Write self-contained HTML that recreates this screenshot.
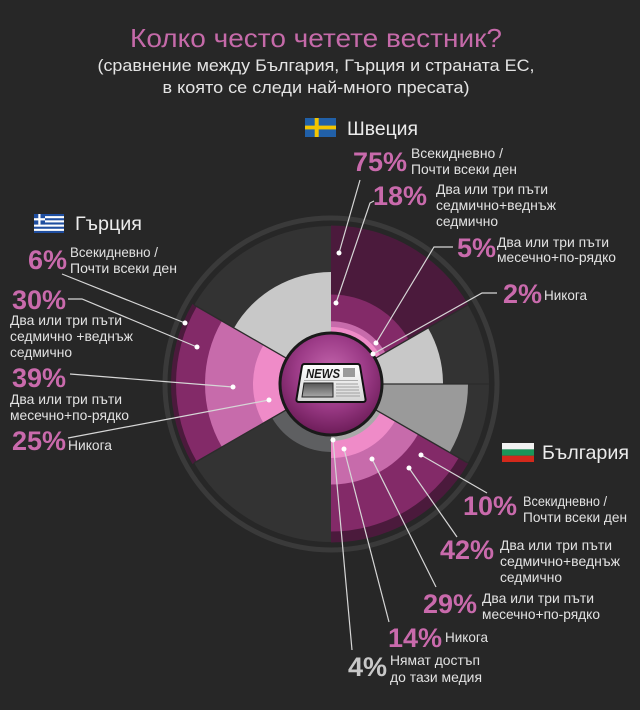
<!DOCTYPE html>
<html>
<head>
<meta charset="utf-8">
<style>
  html,body{margin:0;padding:0;background:#272727;}
  svg{display:block;}
  text{font-family:"Liberation Sans","Noto Sans CJK SC",sans-serif;}
  .pct{font-weight:bold;font-size:27px;fill:#c96aac;}
  .lbl{font-size:14px;fill:#e2e2e2;}
  .hdr{font-size:19.5px;fill:#ececec;}
  .ld{stroke:#d6d6d6;stroke-width:1.2;fill:none;}
  .dot{fill:#ffffff;}
</style>
</head>
<body>
<svg width="640" height="710" viewBox="0 0 640 710" xmlns="http://www.w3.org/2000/svg">
  <defs>
    <radialGradient id="cg" cx="50%" cy="38%" r="62%">
      <stop offset="0" stop-color="#c466ad"/>
      <stop offset="0.55" stop-color="#9c3b87"/>
      <stop offset="1" stop-color="#6c1c58"/>
    </radialGradient>
    <linearGradient id="pg" x1="0" y1="0" x2="0" y2="1">
      <stop offset="0" stop-color="#ffffff"/>
      <stop offset="1" stop-color="#d4d4d4"/>
    </linearGradient>
    <linearGradient id="ph" x1="0" y1="0" x2="0" y2="1">
      <stop offset="0" stop-color="#555"/>
      <stop offset="1" stop-color="#a8a8a8"/>
    </linearGradient>
  </defs>

  <rect x="0" y="0" width="640" height="710" fill="#272727"/>

  <!-- Title -->
  <text x="316" y="47" text-anchor="middle" font-size="26" fill="#c56aa9" textLength="372" lengthAdjust="spacingAndGlyphs">Колко често четете вестник?</text>
  <text x="316" y="71" text-anchor="middle" font-size="17" fill="#e4e4e4" textLength="437" lengthAdjust="spacingAndGlyphs">(сравнение между България, Гърция и страната ЕС,</text>
  <text x="316" y="93" text-anchor="middle" font-size="17" fill="#e4e4e4" textLength="307" lengthAdjust="spacingAndGlyphs">в която се следи най-много пресата)</text>

  <!-- Chart -->
  <g transform="translate(331,384)">
    <circle cx="0" cy="0" r="166" fill="none" stroke="#3a3a3a" stroke-width="5"/>
    <circle cx="0" cy="0" r="158" fill="#333333"/>

    <!-- Sweden 0-60 -->
    <path d="M0 0L0 -158.5A158.5 158.5 0 0 1 137.26 -79.25Z" fill="#4b1a3c"/>
    <path d="M0 0L0 -89.5A89.5 89.5 0 0 1 77.51 -44.75Z" fill="#832a68"/>
    <path d="M0 0L0 -62.8A62.8 62.8 0 0 1 54.39 -31.4Z" fill="#c76bab"/>
    <path d="M0 0L0 -57A57 57 0 0 1 49.36 -28.5Z" fill="#ef8bc8"/>

    <!-- gray 60-90 & 90-120 -->
    <path d="M0 0L0 -112A112 112 0 0 1 56 -96.99Z" fill="#c8c8c8" transform="rotate(60)"/>
    <path d="M0 0L0 -137A137 137 0 0 1 68.5 -118.65Z" fill="#9a9a9a" transform="rotate(90)"/>

    <!-- Bulgaria 120-180 -->
    <g transform="rotate(120)">
      <path d="M0 0L0 -158.5A158.5 158.5 0 0 1 137.26 -79.25Z" fill="#4b1a3c"/>
      <path d="M0 0L0 -147.5A147.5 147.5 0 0 1 127.74 -73.75Z" fill="#832a68"/>
      <path d="M0 0L0 -100.5A100.5 100.5 0 0 1 87.04 -50.25Z" fill="#c76bab"/>
      <path d="M0 0L0 -74A74 74 0 0 1 64.09 -37Z" fill="#ef8bc8"/>
      <path d="M0 0L0 -57A57 57 0 0 1 49.36 -28.5Z" fill="#a9a9a9"/>
    </g>

    <!-- gray 180-240 -->
    <path d="M0 0L0 -68A68 68 0 0 1 58.89 -34Z" fill="#5e5f61" transform="rotate(180)"/>

    <!-- Greece 240-300 -->
    <g transform="rotate(240)">
      <path d="M0 0L0 -160A160 160 0 0 1 138.56 -80Z" fill="#4b1a3c"/>
      <path d="M0 0L0 -155A155 155 0 0 1 134.23 -77.5Z" fill="#832a68"/>
      <path d="M0 0L0 -126A126 126 0 0 1 109.12 -63Z" fill="#c76bab"/>
      <path d="M0 0L0 -78A78 78 0 0 1 67.55 -39Z" fill="#ef8bc8"/>
    </g>

    <!-- gray 300-360 -->
    <path d="M0 0L0 -112A112 112 0 0 1 96.99 -56Z" fill="#c8c8c8" transform="rotate(300)"/>

    <!-- separators -->
    <g stroke="#2c2c2c" stroke-width="1.3">
      <line x1="0" y1="0" x2="136.83" y2="-79"/>
      <line x1="0" y1="0" x2="158" y2="0"/>
      <line x1="0" y1="0" x2="136.83" y2="79"/>
      <line x1="0" y1="0" x2="-136.83" y2="79"/>
      <line x1="0" y1="0" x2="-136.83" y2="-79"/>
    </g>

    <!-- center circle -->
    <circle cx="0" cy="0" r="51" fill="url(#cg)" stroke="#1a1a1a" stroke-width="3"/>
  </g>

  <!-- Newspaper icon -->
  <path d="M304.5 364 L357.5 364 Q359.5 364 360 366 L365.5 399 Q366 402 363 402 L299 402 Q296 402 296.5 399 L302 366 Q302.5 364 304.5 364 Z" fill="url(#pg)" stroke="#111" stroke-width="2"/>
  <text x="306" y="378" font-size="13" font-weight="bold" font-style="italic" fill="#1a1a1a" textLength="34" lengthAdjust="spacingAndGlyphs">NEWS</text>
  <rect x="343" y="368" width="12" height="9" fill="#9a9a9a"/>
  <line x1="304" y1="380.5" x2="358" y2="380.5" stroke="#999" stroke-width="0.8"/>
  <path d="M304 383 L333 383 L333 397 L302 397 Z" fill="url(#ph)" stroke="#222" stroke-width="1"/>
  <g stroke="#a0a0a0" stroke-width="0.9">
    <line x1="336" y1="384" x2="358" y2="384"/>
    <line x1="336" y1="387" x2="359" y2="387"/>
    <line x1="336" y1="390" x2="359" y2="390"/>
    <line x1="336" y1="393" x2="360" y2="393"/>
    <line x1="336" y1="396" x2="360" y2="396"/>
  </g>

  <!-- Leader lines -->
  <g class="ld">
    <polyline points="339,253 360,180"/>
    <polyline points="336,303 370,203 374,201"/>
    <polyline points="376,343 434,247 453,247"/>
    <polyline points="373,354 482,293 497,293"/>

    <polyline points="185,323 62,274"/>
    <polyline points="197,347 82,299 68,299"/>
    <polyline points="233,387 70,374"/>
    <polyline points="269,400 68,438"/>

    <polyline points="421,455 487,493"/>
    <polyline points="409,468 457,537"/>
    <polyline points="372,459 436,587"/>
    <polyline points="344,449 389,622"/>
    <polyline points="333,440 352,650"/>
  </g>
  <g class="dot">
    <circle cx="339" cy="253" r="2.5"/>
    <circle cx="336" cy="303" r="2.5"/>
    <circle cx="376" cy="343" r="2.5"/>
    <circle cx="373" cy="354" r="2.5"/>
    <circle cx="185" cy="323" r="2.5"/>
    <circle cx="197" cy="347" r="2.5"/>
    <circle cx="233" cy="387" r="2.5"/>
    <circle cx="269" cy="400" r="2.5"/>
    <circle cx="421" cy="455" r="2.5"/>
    <circle cx="409" cy="468" r="2.5"/>
    <circle cx="372" cy="459" r="2.5"/>
    <circle cx="344" cy="449" r="2.5"/>
    <circle cx="333" cy="440" r="2.5"/>
  </g>

  <!-- Sweden -->
  <rect x="305" y="118" width="31" height="19" fill="#2160a8"/>
  <rect x="314.7" y="118" width="4" height="19" fill="#f3c500"/>
  <rect x="305" y="125.6" width="31" height="3.8" fill="#f3c500"/>
  <text class="hdr" x="347" y="135" textLength="71" lengthAdjust="spacingAndGlyphs">Швеция</text>

  <text class="pct" x="353" y="171">75%</text>
  <text class="lbl" x="411" y="158" textLength="92" lengthAdjust="spacingAndGlyphs">Всекидневно /</text>
  <text class="lbl" x="411" y="174" textLength="106" lengthAdjust="spacingAndGlyphs">Почти всеки ден</text>

  <text class="pct" x="373" y="205">18%</text>
  <text class="lbl" x="436" y="194" textLength="112" lengthAdjust="spacingAndGlyphs">Два или три пъти</text>
  <text class="lbl" x="436" y="210" textLength="120" lengthAdjust="spacingAndGlyphs">седмично+веднъж</text>
  <text class="lbl" x="436" y="226" textLength="62" lengthAdjust="spacingAndGlyphs">седмично</text>

  <text class="pct" x="457" y="257">5%</text>
  <text class="lbl" x="497" y="247" textLength="112" lengthAdjust="spacingAndGlyphs">Два или три пъти</text>
  <text class="lbl" x="497" y="262" textLength="119" lengthAdjust="spacingAndGlyphs">месечно+по-рядко</text>

  <text class="pct" x="503" y="303">2%</text>
  <text class="lbl" x="544" y="300" textLength="43" lengthAdjust="spacingAndGlyphs">Никога</text>

  <!-- Greece -->
  <rect x="34" y="214" width="30" height="19" fill="#ffffff"/>
  <g fill="#1f4ea0">
    <rect x="34" y="214" width="30" height="2.11"/>
    <rect x="34" y="218.22" width="30" height="2.11"/>
    <rect x="34" y="222.44" width="30" height="2.11"/>
    <rect x="34" y="226.67" width="30" height="2.11"/>
    <rect x="34" y="230.89" width="30" height="2.11"/>
    <rect x="34" y="214" width="11" height="10.55"/>
  </g>
  <rect x="38.3" y="214" width="2.2" height="10.55" fill="#ffffff"/>
  <rect x="34" y="218.2" width="11" height="2.2" fill="#ffffff"/>
  <text class="hdr" x="75" y="230" textLength="67" lengthAdjust="spacingAndGlyphs">Гърция</text>

  <text class="pct" x="28" y="269">6%</text>
  <text class="lbl" x="70" y="257" textLength="88" lengthAdjust="spacingAndGlyphs">Всекидневно /</text>
  <text class="lbl" x="70" y="273" textLength="107" lengthAdjust="spacingAndGlyphs">Почти всеки ден</text>

  <text class="pct" x="12" y="309">30%</text>
  <text class="lbl" x="10" y="325" textLength="112" lengthAdjust="spacingAndGlyphs">Два или три пъти</text>
  <text class="lbl" x="10" y="341" textLength="123" lengthAdjust="spacingAndGlyphs">седмично +веднъж</text>
  <text class="lbl" x="10" y="357" textLength="62" lengthAdjust="spacingAndGlyphs">седмично</text>

  <text class="pct" x="12" y="387">39%</text>
  <text class="lbl" x="10" y="404" textLength="112" lengthAdjust="spacingAndGlyphs">Два или три пъти</text>
  <text class="lbl" x="10" y="420" textLength="119" lengthAdjust="spacingAndGlyphs">месечно+по-рядко</text>

  <text class="pct" x="12" y="450">25%</text>
  <text class="lbl" x="68" y="450" textLength="44" lengthAdjust="spacingAndGlyphs">Никога</text>

  <!-- Bulgaria -->
  <rect x="502" y="443" width="32" height="6.4" fill="#f2f2f2"/>
  <rect x="502" y="449.4" width="32" height="6.3" fill="#1a9659"/>
  <rect x="502" y="455.7" width="32" height="6.3" fill="#d3291b"/>
  <text class="hdr" x="542" y="459" textLength="87" lengthAdjust="spacingAndGlyphs">България</text>

  <text class="pct" x="463" y="515">10%</text>
  <text class="lbl" x="523" y="506" textLength="84" lengthAdjust="spacingAndGlyphs">Всекидневно /</text>
  <text class="lbl" x="523" y="522" textLength="104" lengthAdjust="spacingAndGlyphs">Почти всеки ден</text>

  <text class="pct" x="440" y="559">42%</text>
  <text class="lbl" x="500" y="550" textLength="112" lengthAdjust="spacingAndGlyphs">Два или три пъти</text>
  <text class="lbl" x="500" y="566" textLength="120" lengthAdjust="spacingAndGlyphs">седмично+веднъж</text>
  <text class="lbl" x="500" y="582" textLength="62" lengthAdjust="spacingAndGlyphs">седмично</text>

  <text class="pct" x="423" y="613">29%</text>
  <text class="lbl" x="482" y="603" textLength="112" lengthAdjust="spacingAndGlyphs">Два или три пъти</text>
  <text class="lbl" x="482" y="619" textLength="118" lengthAdjust="spacingAndGlyphs">месечно+по-рядко</text>

  <text class="pct" x="388" y="647">14%</text>
  <text class="lbl" x="445" y="642" textLength="43" lengthAdjust="spacingAndGlyphs">Никога</text>

  <text class="pct" x="348" y="676" style="fill:#c8c8c8">4%</text>
  <text class="lbl" x="390" y="665" textLength="90" lengthAdjust="spacingAndGlyphs">Нямат достъп</text>
  <text class="lbl" x="390" y="682" textLength="92" lengthAdjust="spacingAndGlyphs">до тази медия</text>
</svg>
</body>
</html>
